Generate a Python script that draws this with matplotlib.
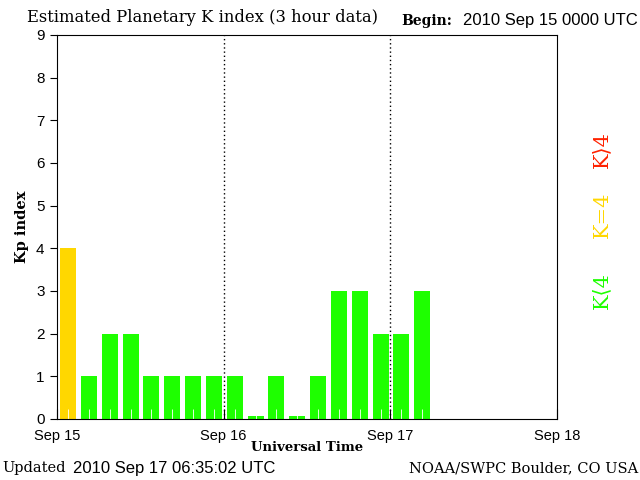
import matplotlib
matplotlib.use('Agg')
import matplotlib.pyplot as plt
import matplotlib.transforms as mtransforms
import numpy as np

# Kp values, one per 3 hour interval starting 2010 Sep 15 00 UTC
kp = [4, 1, 2, 2, 1, 1, 1, 1,
      1, 0, 1, 0, 1, 3, 3, 2,
      2, 3]
day_labels = ['Sep 15', 'Sep 16', 'Sep 17', 'Sep 18']

green = '#1EFF00'
yellow = '#FFD700'
red = '#FF2200'

hours = np.arange(len(kp)) * 3 + 1.6
kp = np.array(kp)
colors = [red if k > 4 else (yellow if k == 4 else green) for k in kp]
heights = np.maximum(kp, 0.07)  # zero drawn as thin sliver

fig = plt.figure(figsize=(6.4, 4.8), dpi=100)
ax = fig.add_axes([57/640, 61/480, 500/640, 384/480])

ax.bar(hours, heights, width=2.3, color=colors, bottom=0)
for d in [24, 48]:
    ax.axvline(d, color='black', linestyle=(0, (1, 2)), linewidth=1)

ax.set_xlim(0, 72)
ax.set_ylim(0, 9)
ax.set_xticks([0, 24, 48, 72])
ax.set_xticklabels(day_labels, family='Liberation Sans', fontsize=10.5)
ax.set_xticks(hours, minor=True)
ax.set_yticks(range(10))
ax.set_yticklabels([str(i) for i in range(10)], family='Liberation Sans', fontsize=11)
shift = mtransforms.ScaledTranslation(0, 3/100, fig.dpi_scale_trans)
for lab in ax.get_yticklabels():
    lab.set_transform(lab.get_transform() + shift)
ax.tick_params(axis='x', which='major', direction='in', length=7, pad=7)
ax.tick_params(axis='x', which='minor', direction='in', length=7, color='white')
ax.tick_params(axis='y', direction='out', length=5, pad=4)

ax.set_ylabel('Kp index', family='DejaVu Serif', fontweight='bold', fontsize=10.5, labelpad=5)
ax.set_xlabel('Universal Time', family='DejaVu Serif', fontweight='bold', fontsize=9.5, labelpad=-1)

fig.text(27/640, 1 - 18/480, 'Estimated Planetary K index (3 hour data)',
         family='DejaVu Serif', fontsize=11.8, va='center', ha='left')
fig.text(401/640, 1 - 21/480, 'Begin:', family='DejaVu Serif', fontweight='bold',
         fontsize=10, va='center', ha='left')
fig.text(463/640, 1 - 21/480, '2010 Sep 15 0000 UTC', family='Liberation Sans',
         fontsize=12, va='center', ha='left')

fig.text(2/640, 1 - 468/480, 'Updated', family='DejaVu Serif', fontsize=10.5,
         va='center', ha='left')
fig.text(73/640, 1 - 468/480, '2010 Sep 17 06:35:02 UTC', family='Liberation Sans',
         fontsize=12, va='center', ha='left')
fig.text(638/640, 1 - 468/480, 'NOAA/SWPC Boulder, CO USA', family='DejaVu Serif',
         fontsize=10.5, va='center', ha='right')

fig.text(602/640, 1 - 150/480, 'K\u27e94', color=red, rotation=90, family='DejaVu Serif',
         fontsize=15, va='center', ha='center')
fig.text(602/640, 1 - 215/480, 'K=4', color=yellow, rotation=90, family='DejaVu Serif',
         fontsize=15, va='center', ha='center')
fig.text(602/640, 1 - 291/480, 'K\u27e84', color=green, rotation=90, family='DejaVu Serif',
         fontsize=15, va='center', ha='center')

fig.savefig('out.png', dpi=100)
